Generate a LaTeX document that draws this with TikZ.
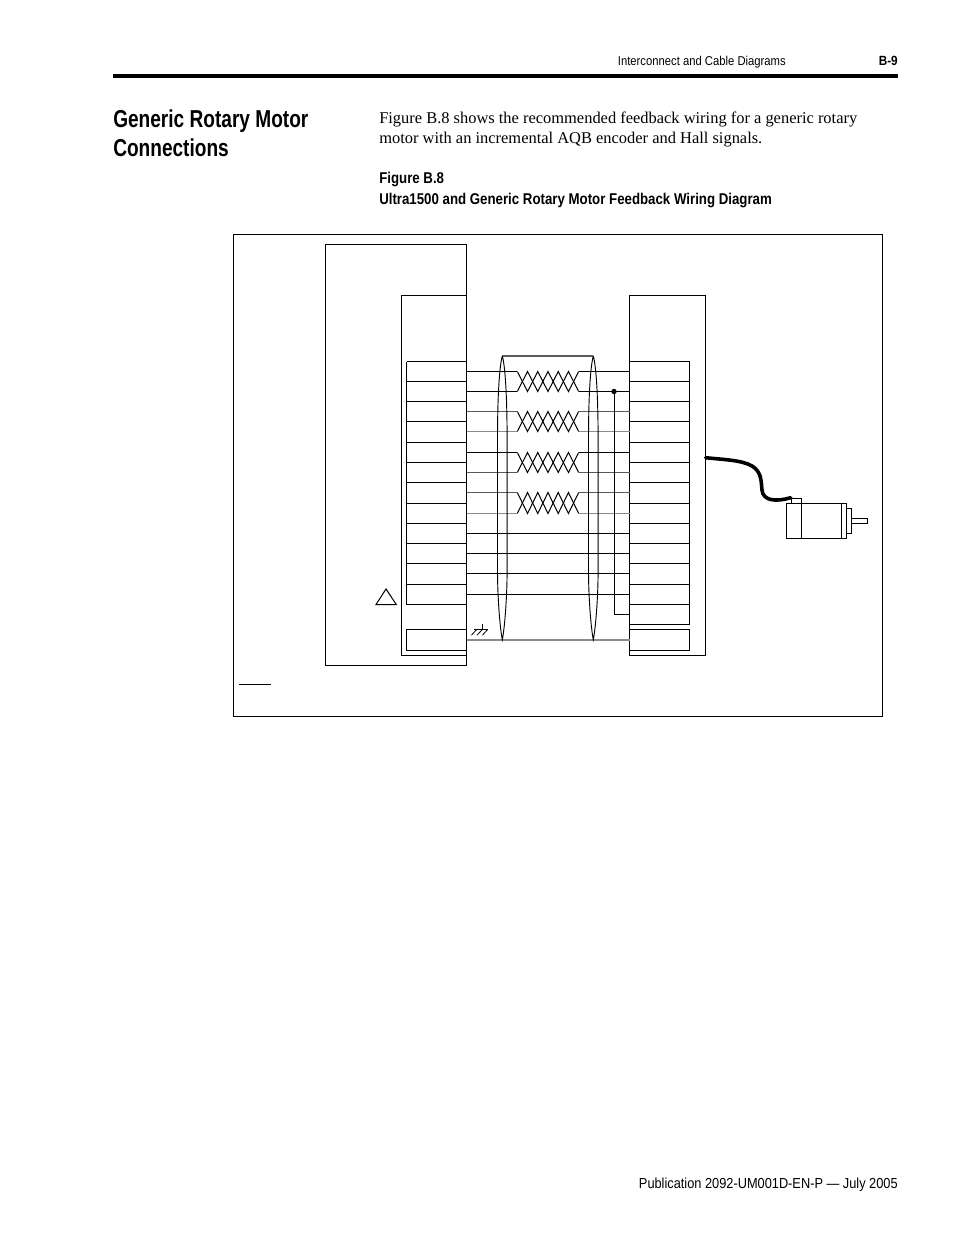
\documentclass[tikz,border=0pt]{standalone}
\usepackage{fontspec}
\setmainfont{Liberation Serif}
\setsansfont{Liberation Sans}[FakeStretch=0.78]
\newfontfamily\headfont{Liberation Sans}[FakeStretch=0.88]
\newfontfamily\capfont{Liberation Sans}[FakeStretch=0.85]
\tikzset{
  wire/.style={line width=0.75pt,black},
  graywire/.style={line width=0.8pt,black!65},
  fatwire/.style={line width=1.3pt,black!45},
  headtext/.style={inner sep=0pt,font=\headfont\fontsize{9.6}{9.6}\selectfont},
  foottext/.style={inner sep=0pt,font=\headfont\fontsize{10.9}{10.9}\selectfont},
  titletext/.style={inner sep=0pt,font=\sffamily\bfseries\fontsize{18.35}{18.35}\selectfont},
  captext/.style={inner sep=0pt,font=\capfont\bfseries\fontsize{11.7}{11.7}\selectfont},
  bodytext/.style={inner sep=0pt,font=\fontsize{12.33}{12.33}\selectfont}
}
\begin{document}
\begin{tikzpicture}[x=0.75pt,y=-0.75pt]
\useasboundingbox (0,0) rectangle (954,1235);

% page header and footer
\draw [line width=2.3pt] (113,76) -- (898,76);
\node[headtext,anchor=base east] (headline) at (786,65) {Interconnect and Cable Diagrams};
\node[headtext,anchor=base east,font=\headfont\bfseries\fontsize{10}{10}\selectfont] (pageno) at (898,65) {B-9};
\node[foottext,anchor=base east] (footline) at (898,1188) {Publication 2092-UM001D-EN-P — July 2005};

\node[titletext,anchor=base west] (title1) at (113,127) {Generic Rotary Motor};
\node[titletext,anchor=base west] (title2) at (113,156.5) {Connections};
\node[bodytext,anchor=base west] (body1) at (379,123) {Figure B.8 shows the recommended feedback wiring for a generic rotary};
\node[bodytext,anchor=base west] (body2) at (379,143) {motor with an incremental AQB encoder and Hall signals.};
\node[captext,anchor=base west] (fig) at (379,183) {Figure B.8};
\node[captext,anchor=base west] (cap) at (379,204) {Ultra1500 and Generic Rotary Motor Feedback Wiring Diagram};

% figure frame
\draw [wire] (233.5,234.6) rectangle (882.5,716);

% drive outline
\draw [wire] (466.5,295.5) -- (466.5,244.5) -- (325.5,244.5) -- (325.5,665.5) -- (466.5,665.5) -- cycle;
\draw [wire] (466.5,295.5) -- (401.5,295.5) -- (401.5,655.5) -- (466.5,655.5);
\draw [wire] (406.5,361.5) -- (406.5,604.5);
\foreach \r in {361.5,381.5,401.5,421.5,442.5,462.5,482.5,503.5,523.5,543.5,563.5,584.5,604.5}
  \draw [wire] (406.5,\r) -- (466.5,\r);
\draw [wire] (406.5,629.5) rectangle (466.5,650.5);
\draw [wire] (376,604.5) -- (386,589) -- (396.3,604.5) -- cycle;

% motor connector
\draw [wire] (629.5,295.5) rectangle (705.5,655.5);
\draw [wire] (689.5,361.5) -- (689.5,624.5) -- (629.5,624.5);
\foreach \r in {361.5,381.5,401.5,421.5,442.5,462.5,482.5,503.5,523.5,543.5,563.5,584.5,604.5}
  \draw [wire] (629.5,\r) -- (689.5,\r);
\draw [wire,fill=white] (629.5,629.5) rectangle (689.5,650.5);

% twisted pairs
\foreach \a/\b/\sa/\sb in {371.5/391.5/wire/wire,411.5/431.5/graywire/fatwire,452.5/472.5/wire/graywire,492.5/513.5/graywire/fatwire}{
  \draw [\sa] (466.5,\a) -- (517.3,\a);
  \draw [\sa] (578.7,\a) -- (629.5,\a);
  \draw [\sb] (466.5,\b) -- (517.3,\b);
  \draw [\sb] (578.7,\b) -- (629.5,\b);
  \draw [wire] (517.3,\a) -- ++(10.23,\b-\a) -- ++(10.23,\a-\b) -- ++(10.23,\b-\a) -- ++(10.23,\a-\b) -- ++(10.23,\b-\a) -- ++(10.23,\a-\b);
  \draw [wire] (517.3,\b) -- ++(10.23,\a-\b) -- ++(10.23,\b-\a) -- ++(10.23,\a-\b) -- ++(10.23,\b-\a) -- ++(10.23,\a-\b) -- ++(10.23,\b-\a);
}

% straight wires
\foreach \r in {533.5,553.5,573.5,594.5}
  \draw [wire] (466.5,\r) -- (629.5,\r);
\draw [fatwire] (466.5,639.7) -- (629.5,639.7);

% jumper
\fill (614,391.5) circle (2.7);
\draw [wire] (614,391.5) -- (614,614.5) -- (629.5,614.5);

% shield
\draw [graywire] (502.3,356) -- (593.3,356);
\foreach \c in {502.3,593.3}
  \draw [wire,line width=0.7pt] (\c,356) .. controls (\c-2.8,366) and (\c-4.8,395) .. (\c-4.8,440)
    -- (\c-4.8,570) .. controls (\c-4.8,600) and (\c-2,630) .. (\c,639.7)
    .. controls (\c+2,630) and (\c+4.8,600) .. (\c+4.8,570)
    -- (\c+4.8,440) .. controls (\c+4.8,395) and (\c+2.8,366) .. (\c,356);

% ground
\draw [wire,line width=0.6pt] (482.3,624) -- (482.3,629.5);
\draw [wire,line width=0.6pt] (474,629.5) -- (487.7,629.5);
\foreach \g in {476.7,482.3,487.7}
  \draw [wire,line width=0.6pt] (\g,629.5) -- ++(-5.3,5.7);

% cable
\draw [line width=2.7pt,line cap=round] (705.7,457.7) .. controls (722,459.5) and (742,460) .. (752,466)
  .. controls (762,472) and (761,482) .. (762,490) .. controls (763,501) and (776,502) .. (790.7,497.7);

% motor
\draw [wire] (786.7,503.5) rectangle (846.7,538.5);
\draw [wire] (801.5,503.5) -- (801.5,538.5);
\draw [wire] (841.5,503.5) -- (841.5,538.5);
\draw [wire] (791.5,503.5) -- (791.5,498.5) -- (801.5,498.5) -- (801.5,503.5);
\draw [wire] (846.7,508.5) rectangle (851.7,533.5);
\draw [wire] (851.7,518.5) rectangle (867.5,523.5);

% note rule
\draw [wire] (239,684.5) -- (271,684.5);

\end{tikzpicture}
\end{document}
